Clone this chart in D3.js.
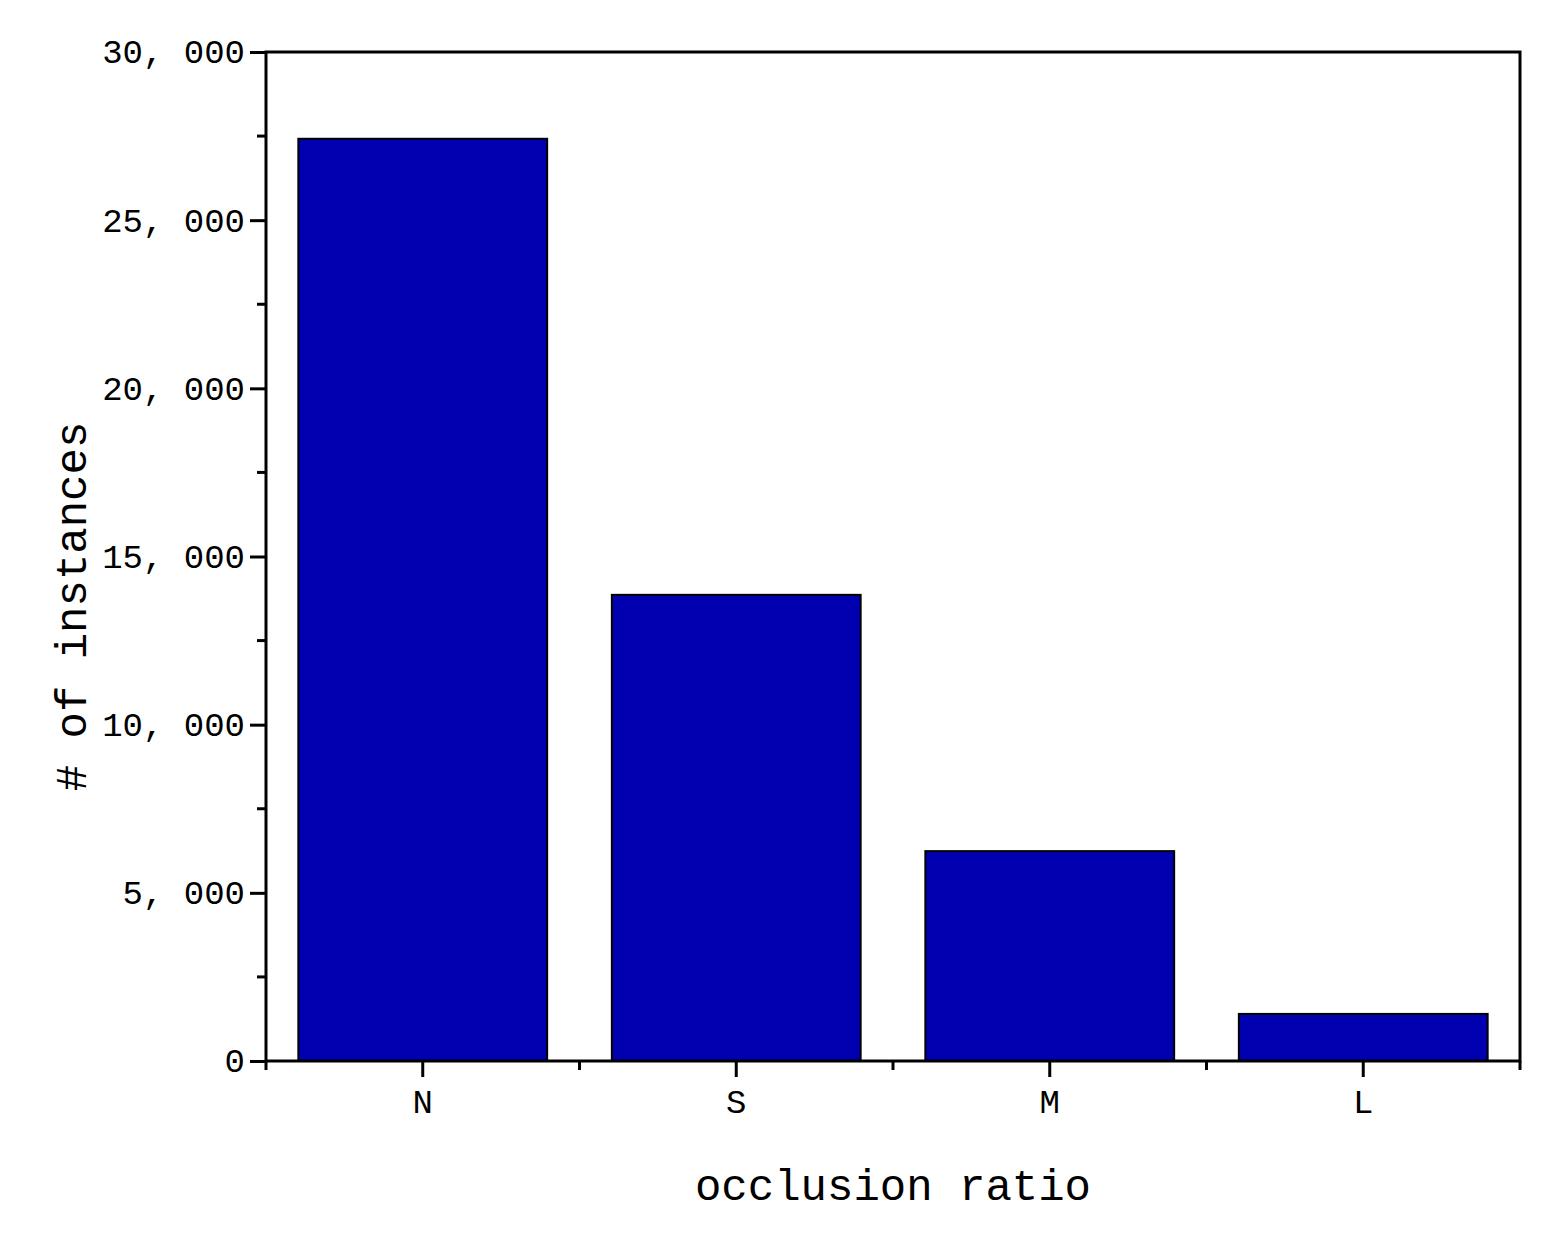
<!DOCTYPE html>
<html><head><meta charset="utf-8">
<script src="https://cdn.jsdelivr.net/npm/d3@7"></script>
<style>body{margin:0;background:#fff}</style>
</head><body><svg id="c" width="1568" height="1244"></svg>
<script>
const categories = ["N","S","M","L"];
const values = [27420, 13860, 6240, 1400];
const yTicks = [0,5000,10000,15000,20000,25000,30000];
const yMinor = [2500,7500,12500,17500,22500,27500];

const svg = d3.select("#c");
const L=266,R=1520,T=52,B=1061;
const font="'Liberation Mono','DejaVu Sans Mono',monospace";
const x = d3.scaleBand().domain(categories).range([L,R]).paddingInner(0.2).paddingOuter(0.1);
const y = d3.scaleLinear().domain([0,30000]).range([B,T]);

svg.selectAll("rect.bar").data(values).join("rect")
  .attr("x",(d,i)=>x(categories[i])+1).attr("y",d=>y(d))
  .attr("width",x.bandwidth()-2).attr("height",d=>B-y(d))
  .attr("fill","#0000b0").attr("stroke","#000").attr("stroke-width",2);

const fmt = d3.format(",");
const ya = svg.append("g").attr("transform",`translate(${L},0)`)
  .call(d3.axisLeft(y).tickValues(yTicks).tickSize(16).tickFormat(d=>fmt(d).replace(",",", ")));
ya.select(".domain").remove();
ya.selectAll("line").attr("stroke","#000").attr("stroke-width",3);
ya.selectAll("text").attr("font-family",font).attr("font-size",34).attr("fill","#000").attr("dx",-2);
svg.append("g").selectAll("line").data(yMinor).join("line")
  .attr("x1",L-9).attr("x2",L).attr("y1",d=>y(d)).attr("y2",d=>y(d)).attr("stroke","#000").attr("stroke-width",3);

const xa = svg.append("g").attr("transform",`translate(0,${B})`)
  .call(d3.axisBottom(x).tickSize(16).tickPadding(12));
xa.select(".domain").remove();
xa.selectAll("line").attr("stroke","#000").attr("stroke-width",3);
xa.selectAll("text").attr("font-family",font).attr("font-size",34).attr("fill","#000");
const step = x.step();
const bounds = d3.range(categories.length+1).map(i=>L+i*(R-L)/categories.length);
svg.append("g").selectAll("line").data(bounds).join("line")
  .attr("x1",d=>d).attr("x2",d=>d).attr("y1",B).attr("y2",B+9).attr("stroke","#000").attr("stroke-width",3);

svg.append("rect").attr("x",L).attr("y",T).attr("width",R-L).attr("height",B-T)
  .attr("fill","none").attr("stroke","#000").attr("stroke-width",3);

svg.append("text").attr("x",(L+R)/2).attr("y",1200).attr("text-anchor","middle")
  .attr("font-family",font).attr("font-size",44).text("occlusion ratio");
svg.append("text").attr("transform",`translate(86,${(T+B)/2+50}) rotate(-90)`).attr("text-anchor","middle")
  .attr("font-family",font).attr("font-size",44).text("# of instances");
</script></body></html>
